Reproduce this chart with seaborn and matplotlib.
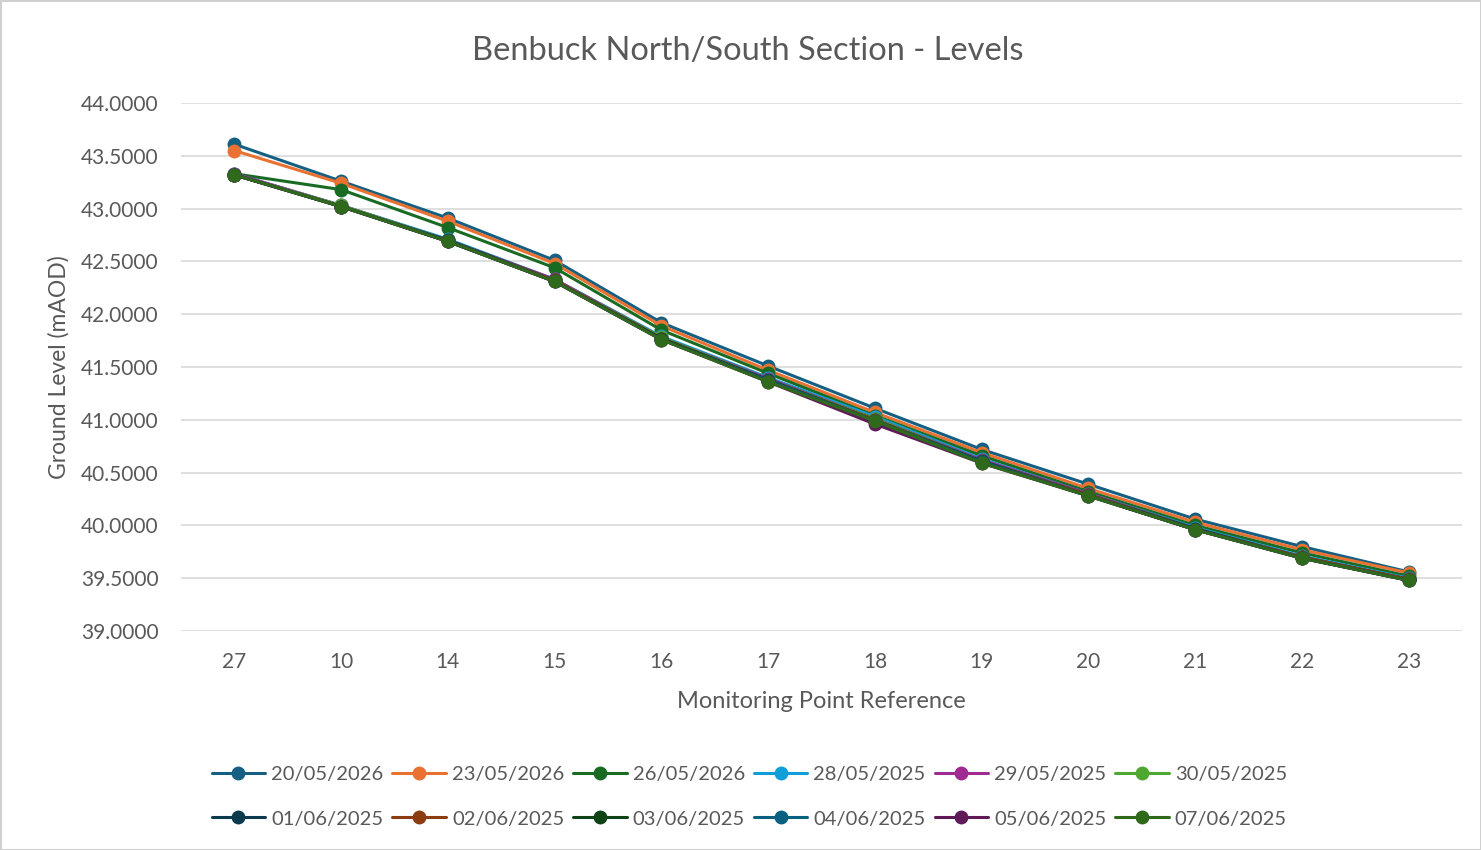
import pandas as pd
import seaborn as sns
import matplotlib.pyplot as plt
from matplotlib.ticker import FormatStrFormatter, MultipleLocator

# Pontos de monitorização (eixo x, ordem do gráfico)
pontos = ["27", "10", "14", "15", "16", "17", "18", "19", "20", "21", "22", "23"]

datas = ["20/05/2026", "23/05/2026", "26/05/2026", "28/05/2025", "29/05/2025", "30/05/2025",
         "01/06/2025", "02/06/2025", "03/06/2025", "04/06/2025", "05/06/2025", "07/06/2025"]

cores = ["#156082", "#E97132", "#196B24", "#0F9ED5", "#A02B93", "#4EA72E",
         "#0B3A4F", "#8B3C10", "#0F4316", "#09607F", "#601A58", "#2F6A1C"]

# Níveis (mAOD)
n_2005 = [43.61, 43.26, 42.91, 42.51, 41.92, 41.51, 41.11, 40.72, 40.39, 40.06, 39.80, 39.56]
n_2305 = [43.55, 43.24, 42.88, 42.48, 41.89, 41.47, 41.07, 40.69, 40.35, 40.03, 39.77, 39.55]
n_2605 = [43.33, 43.18, 42.82, 42.44, 41.85, 41.44, 41.04, 40.66, 40.32, 40.00, 39.74, 39.52]
n_2805 = [43.33, 43.03, 42.71, 42.33, 41.79, 41.40, 41.03, 40.63, 40.30, 39.98, 39.71, 39.50]
n_2905 = [43.33, 43.03, 42.70, 42.33, 41.78, 41.39, 41.01, 40.62, 40.30, 39.97, 39.70, 39.49]
n_3005 = [43.32, 43.03, 42.70, 42.32, 41.78, 41.38, 41.01, 40.61, 40.29, 39.97, 39.70, 39.49]
n_0106 = [43.32, 43.02, 42.70, 42.32, 41.77, 41.38, 41.00, 40.61, 40.29, 39.97, 39.70, 39.49]
n_0206 = [43.32, 43.02, 42.69, 42.32, 41.77, 41.37, 41.00, 40.60, 40.29, 39.96, 39.70, 39.49]
n_0306 = [43.32, 43.02, 42.69, 42.31, 41.77, 41.37, 40.99, 40.60, 40.28, 39.96, 39.69, 39.48]
n_0406 = [43.32, 43.02, 42.69, 42.31, 41.76, 41.37, 40.99, 40.60, 40.28, 39.96, 39.69, 39.48]
n_0506 = [43.32, 43.02, 42.69, 42.31, 41.76, 41.36, 40.96, 40.59, 40.28, 39.96, 39.69, 39.48]
n_0706 = [43.32, 43.02, 42.69, 42.31, 41.76, 41.36, 40.99, 40.59, 40.28, 39.96, 39.69, 39.48]

niveis = [n_2005, n_2305, n_2605, n_2805, n_2905, n_3005,
          n_0106, n_0206, n_0306, n_0406, n_0506, n_0706]

# Tabela em formato longo
linhas = []
for data, serie in zip(datas, niveis):
    for ponto, valor in zip(pontos, serie):
        linhas.append({"Ponto": ponto, "Data": data, "Nivel": valor})
df = pd.DataFrame(linhas)

sns.set_theme(style="white")
plt.rcParams['font.family'] = ['Lato', 'DejaVu Sans']
cinza = "#595959"

fig = plt.figure(figsize=(14.81, 8.5), dpi=100)
ax = fig.add_axes([0.1222, 0.2576, 0.865, 0.6212])

sns.lineplot(data=df, x="Ponto", y="Nivel", hue="Data", hue_order=datas,
             palette=dict(zip(datas, cores)), marker="o", markersize=10,
             markeredgewidth=0, linewidth=2.2, sort=False, ax=ax, legend=True)

ax.set_ylim(39.0, 44.0)
ax.set_xlim(-0.5, len(pontos) - 0.5)
ax.yaxis.set_major_locator(MultipleLocator(0.5))
ax.yaxis.set_major_formatter(FormatStrFormatter("%.4f"))
ax.grid(axis="y", color="#D9D9D9", linewidth=1.2)
ax.grid(axis="x", visible=False)
ax.set_axisbelow(True)
for s in ax.spines.values():
    s.set_visible(False)
ax.tick_params(axis="y", length=0, labelsize=15, colors=cinza, pad=16)
ax.tick_params(axis="x", length=0, labelsize=15, colors=cinza, pad=15)

fig.suptitle("Benbuck North/South Section - Levels", x=0.505, y=0.958,
             fontsize=23.5, color=cinza)
ax.set_xlabel("Monitoring Point Reference", fontsize=17, color=cinza, labelpad=14)
ax.set_ylabel("Ground Level (mAOD)", fontsize=16.5, color=cinza, labelpad=8)

# Legenda em 2 linhas, preenchida por linha (como no Excel)
handles, labels = ax.get_legend_handles_labels()
ax.get_legend().remove()
ordem = [i + j * 6 for i in range(6) for j in range(2)]
fig.legend([handles[k] for k in ordem], [labels[k] for k in ordem],
           loc="upper center", bbox_to_anchor=(0.506, 0.12), ncol=6,
           frameon=False, fontsize=14.5, labelcolor=cinza, handlelength=2.65,
           handletextpad=0.3, columnspacing=0.45, labelspacing=1.35)

# Moldura da área do gráfico
fig.patch.set_edgecolor("#D0D0D0")
fig.patch.set_linewidth(2)

fig.savefig("out.png", dpi=100)
